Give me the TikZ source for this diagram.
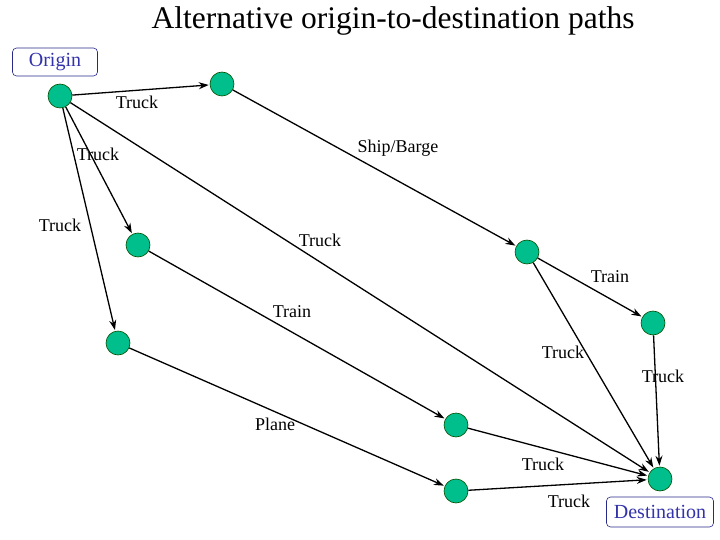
\documentclass[tikz,border=0pt]{standalone}
\usepackage{fontspec}
\setmainfont{Liberation Serif}
\usetikzlibrary{arrows.meta}
\definecolor{nodegreen}{RGB}{0,191,140}
\definecolor{boxblue}{RGB}{50,50,170}
\begin{document}
\begin{tikzpicture}[x=1pt,y=-1pt,
  hub/.style={circle,fill=nodegreen,draw=black!70!green,line width=0.6pt,minimum size=24pt,inner sep=0pt},
  link/.style={draw=black,line width=1.3pt,-{Stealth[length=10pt,width=7pt]},shorten >=1pt},
  lbl/.style={font=\fontsize{18}{20}\selectfont,inner sep=0pt},
  tag/.style={draw=boxblue!80!black,rounded corners=4pt,text=boxblue,font=\fontsize{20}{22}\selectfont,inner sep=0pt,line width=0.6pt}]
\useasboundingbox (0,0) rectangle (720,540);
\node[font=\fontsize{31.5}{34}\selectfont] (title) at (393,21) {Alternative origin-to-destination paths};
\node[tag,minimum width=85pt,minimum height=28pt] (orig) at (55,62) {Origin};
\node[tag,minimum width=107pt,minimum height=30pt] (dest) at (660,512) {Destination};
\node[hub] (O) at (60,96) {};
\node[hub] (A) at (222,84) {};
\node[hub] (B) at (138,245) {};
\node[hub] (C) at (118,343) {};
\node[hub] (D) at (527,252) {};
\node[hub] (E) at (653,323) {};
\node[hub] (F) at (456,425) {};
\node[hub] (G) at (456,491) {};
\node[hub] (Z) at (660,479) {};
\draw[link] (O) -- (A);
\draw[link] (A) -- (D);
\draw[link] (O) -- (B);
\draw[link] (O) -- (C);
\draw[link] (O) -- (Z);
\draw[link] (D) -- (E);
\draw[link] (D) -- (Z);
\draw[link] (E) -- (Z);
\draw[link] (B) -- (F);
\draw[link] (C) -- (G);
\draw[link] (F) -- (Z);
\draw[link] (G) -- (Z);
\node[lbl] (l1) at (137,102) {Truck};
\node[lbl] (l2) at (398,148) {Ship/Barge};
\node[lbl] (l3) at (98,154) {Truck};
\node[lbl] (l4) at (60,225) {Truck};
\node[lbl] (l5) at (320,240) {Truck};
\node[lbl] (l6) at (610,277) {Train};
\node[lbl] (l7) at (292,312) {Train};
\node[lbl] (l8) at (563,352) {Truck};
\node[lbl] (l9) at (663,376) {Truck};
\node[lbl] (l10) at (275,424) {Plane};
\node[lbl] (l11) at (543,464) {Truck};
\node[lbl] (l12) at (569,501) {Truck};
\end{tikzpicture}
\end{document}
